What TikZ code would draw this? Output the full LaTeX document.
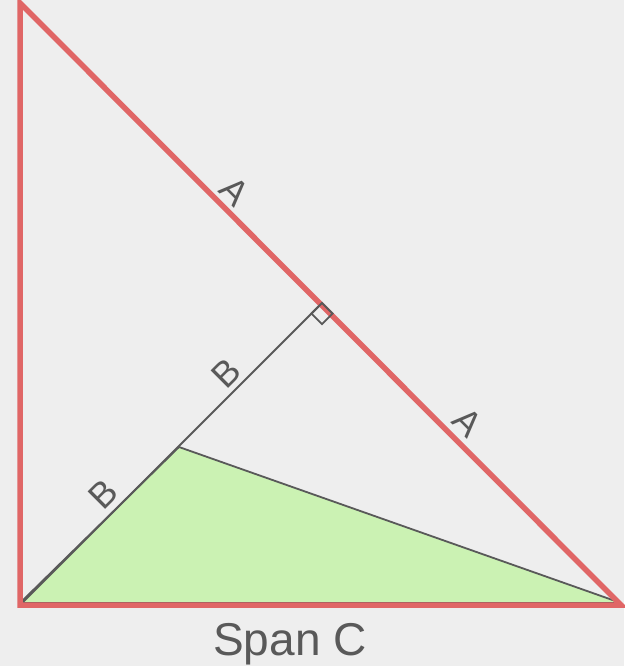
\documentclass[tikz,border=0pt]{standalone}
\usepackage{fontspec}
\setmainfont{Liberation Sans}
\definecolor{bg}{HTML}{EEEEEE}
\definecolor{redl}{HTML}{E06666}
\definecolor{greenf}{HTML}{CBF2B3}
\definecolor{darkl}{HTML}{595959}
\definecolor{txt}{HTML}{595959}
\tikzset{
  redside/.style={draw=redl, line width=5.5pt, line join=miter, miter limit=10},
  thinline/.style={draw=darkl, line width=1.8pt},
  lbl/.style={text=txt, inner sep=0pt, font=\fontsize{36}{40}\selectfont},
  caption/.style={text=txt, inner sep=0pt, font=\fontsize{46}{50}\selectfont}
}
\begin{document}
\begin{tikzpicture}[x=1pt,y=-1pt]
\fill[bg] (0,0) rectangle (624,666);
\useasboundingbox (0,0) rectangle (624,666);
\coordinate (TL) at (20,3);
\coordinate (BL) at (20,605);
\coordinate (BR) at (621,605);
\coordinate (F) at (322,303);
\coordinate (P) at (179,447);
\coordinate (GL) at (20,603);
\coordinate (GR) at (621,603);
\coordinate (Q1) at (311.4,313.6);
\coordinate (Q2) at (322,324.2);
\coordinate (Q3) at (332.6,313.6);
% green triangle
\filldraw[fill=greenf, thinline, line join=round] (GL) -- (P) -- (GR) -- cycle;
% perpendicular
\draw[thinline] (BL) -- (F);
% red triangle
\draw[redside] (TL) -- (BL) -- (BR) -- cycle;
% right angle mark
\draw[thinline] (F) -- (Q1) -- (Q2) -- (Q3) -- cycle;
% labels
\node[lbl, rotate=-45] (a1) at (235,191) {A};
\node[lbl, rotate=-45] (a2) at (468,422) {A};
\node[lbl, rotate=45] (b1) at (226,373) {B};
\node[lbl, rotate=45] (b2) at (103,494) {B};
\node[caption, anchor=base] (span) at (290,655) {Span C};
\end{tikzpicture}
\end{document}
